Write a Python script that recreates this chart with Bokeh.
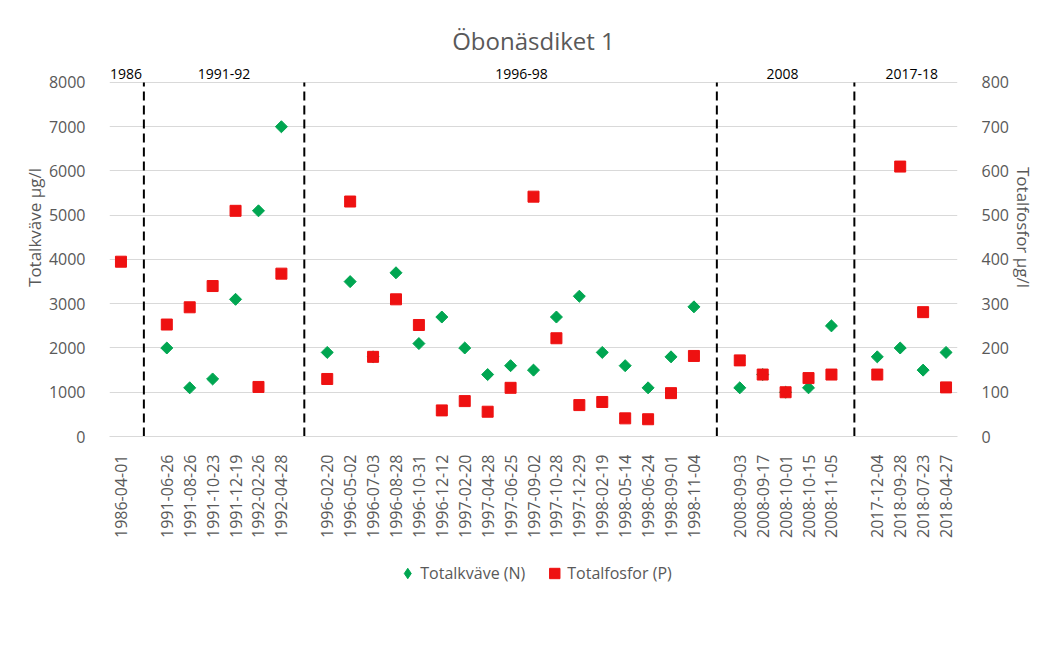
import math
from bokeh.plotting import figure
from bokeh.layouts import column
from bokeh.models import Range1d, LinearAxis, FixedTicker, Legend, LegendItem, ColumnDataSource
from bokeh.embed import file_html
from bokeh.resources import INLINE
from bokeh.core.properties import value

chart_title = "Öbonäsdiket 1"
left_title = "Totalkväve µg/l"
right_title = "Totalfosfor µg/l"
series_names = ["Totalkväve (N)", "Totalfosfor (P)"]

periods = ["1986", "1991-92", "1996-98", "2008", "2017-18"]

dates_1986 = ["1986-04-01"]
dates_1991 = ["1991-06-26", "1991-08-26", "1991-10-23", "1991-12-19", "1992-02-26", "1992-04-28"]
dates_1996 = ["1996-02-20", "1996-05-02", "1996-07-03", "1996-08-28", "1996-10-31", "1996-12-12",
              "1997-02-20", "1997-04-28", "1997-06-25", "1997-09-02", "1997-10-28", "1997-12-29",
              "1998-02-19", "1998-05-14", "1998-06-24", "1998-09-01", "1998-11-04"]
dates_2008 = ["2008-09-03", "2008-09-17", "2008-10-01", "2008-10-15", "2008-11-05"]
dates_2017 = ["2017-12-04", "2018-09-28", "2018-07-23", "2018-04-27"]

n_1986 = [float("nan")]
n_1991 = [2000, 1100, 1300, 3100, 5100, 7000]
n_1996 = [1900, 3500, 1800, 3700, 2100, 2700, 2000, 1400, 1600, 1500, 2700, 3170,
          1900, 1600, 1100, 1800, 2930]
n_2008 = [1100, 1400, 1000, 1100, 2500]
n_2017 = [1800, 2000, 1500, 1900]

p_1986 = [395]
p_1991 = [253, 292, 340, 510, 112, 368]
p_1996 = [130, 531, 180, 310, 252, 59, 80, 56, 110, 542, 222, 71, 78, 41, 39, 98, 182]
p_2008 = [172, 140, 100, 132, 140]
p_2017 = [140, 610, 281, 111]

left_ticks = [0, 1000, 2000, 3000, 4000, 5000, 6000, 7000, 8000]
right_ticks = [0, 100, 200, 300, 400, 500, 600, 700, 800]

groups = [
    (periods[0], dates_1986, n_1986, p_1986),
    (periods[1], dates_1991, n_1991, p_1991),
    (periods[2], dates_1996, n_1996, p_1996),
    (periods[3], dates_2008, n_2008, p_2008),
    (periods[4], dates_2017, n_2017, p_2017),
]

xs, labels, nvals, pvals = [], [], [], []
gap_x, group_centers = [], []
pos = 0
for gi, (name, ds, nv, pv) in enumerate(groups):
    if gi > 0:
        gap_x.append(pos)
        pos += 1
    start = pos
    for d, a, b in zip(ds, nv, pv):
        xs.append(pos)
        labels.append(d)
        nvals.append(a)
        pvals.append(b)
        pos += 1
    group_centers.append((start + pos - 1) / 2)
n_slots = pos

FONT = "Open Sans"
GRAY = "#595959"
GRID = "#d9d9d9"
GREEN = "#00a651"
RED = "#ee1111"
W = 1046

y_top = 9446
p = figure(width=W, height=556, output_backend="svg", toolbar_location=None,
           x_range=Range1d(-0.5, n_slots - 0.5), y_range=Range1d(0, y_top),
           min_border_left=109, min_border_right=89, min_border_top=18, min_border_bottom=120)
p.outline_line_color = None
p.extra_y_ranges = {"p": Range1d(0, y_top / 10)}

src = ColumnDataSource(dict(x=xs, n=nvals, pp=pvals))

# dashed separators
p.segment(x0=gap_x, y0=[0] * len(gap_x), x1=gap_x, y1=[left_ticks[-1]] * len(gap_x),
          line_color="black", line_width=2, line_dash="9 5")

rn = p.scatter("x", "n", source=src, marker="square", angle=math.pi / 4, size=8.5,
               fill_color=GREEN, line_color=GREEN)
rp = p.scatter("x", "pp", source=src, marker="square", size=11, y_range_name="p",
               fill_color=RED, line_color=RED)

# period labels and title
p.text(x=group_centers, y=[8203] * len(periods), text=periods, text_font=value(FONT),
       x_offset=[5, 0, 11, -3, 0],
       text_font_size="14px", text_color="black", text_align="center", text_baseline="middle")
p.text(x=[(n_slots - 1) / 2], y=[8950], text=[chart_title], text_font=value(FONT),
       text_font_size="24px", text_color=GRAY, text_align="center", text_baseline="middle")

# grids
p.xgrid.visible = False
p.ygrid.ticker = FixedTicker(ticks=left_ticks)
p.ygrid.grid_line_color = GRID

# x axis
xa = p.xaxis[0]
xa.ticker = FixedTicker(ticks=xs)
xa.major_label_overrides = {x: l for x, l in zip(xs, labels)}
xa.major_label_orientation = math.pi / 2
xa.major_label_text_font = FONT
xa.major_label_text_font_size = "16px"
xa.major_label_text_color = GRAY
xa.axis_line_color = GRID
xa.major_tick_line_color = None
xa.minor_tick_line_color = None
xa.major_label_standoff = 12

# left axis
ya = p.yaxis[0]
ya.ticker = FixedTicker(ticks=left_ticks)
ya.axis_label = left_title

# right axis
ra = LinearAxis(y_range_name="p", ticker=FixedTicker(ticks=right_ticks), axis_label=right_title)
p.add_layout(ra, "right")

for ax in (ya, ra):
    ax.axis_line_color = None
    ax.major_tick_line_color = None
    ax.minor_tick_line_color = None
    ax.major_label_text_font = FONT
    ax.major_label_text_font_size = "16px"
    ax.major_label_text_color = GRAY
    ax.major_label_standoff = 18
    ax.axis_label_text_font = FONT
    ax.axis_label_text_font_size = "17px"
    ax.axis_label_text_font_style = "normal"
    ax.axis_label_text_color = GRAY
    ax.axis_label_standoff = 0

# legend figure below the chart (glyph sources lie outside its visible range)
lf = figure(width=W, height=34, output_backend="svg", toolbar_location=None,
            x_range=Range1d(0, 1), y_range=Range1d(0, 1),
            min_border_left=16, min_border_right=0, min_border_top=0, min_border_bottom=0)
lf.axis.visible = False
lf.grid.visible = False
lf.outline_line_color = None
ln = lf.scatter(x=[5], y=[5], marker="diamond", size=14, fill_color=GREEN, line_color=GREEN)
lp = lf.scatter(x=[5], y=[5], marker="square", size=11, fill_color=RED, line_color=RED)
legend = Legend(items=[LegendItem(label=series_names[0], renderers=[ln]),
                       LegendItem(label=series_names[1], renderers=[lp])],
                orientation="horizontal", location="center",
                label_text_font=FONT, label_text_font_size="16px", label_text_color=GRAY,
                border_line_color=None, background_fill_alpha=0,
                glyph_width=26, glyph_height=26, label_standoff=0, spacing=16, margin=0, padding=2)
lf.add_layout(legend)

open("out.html", "w").write(file_html(column(p, lf, spacing=0), INLINE))
